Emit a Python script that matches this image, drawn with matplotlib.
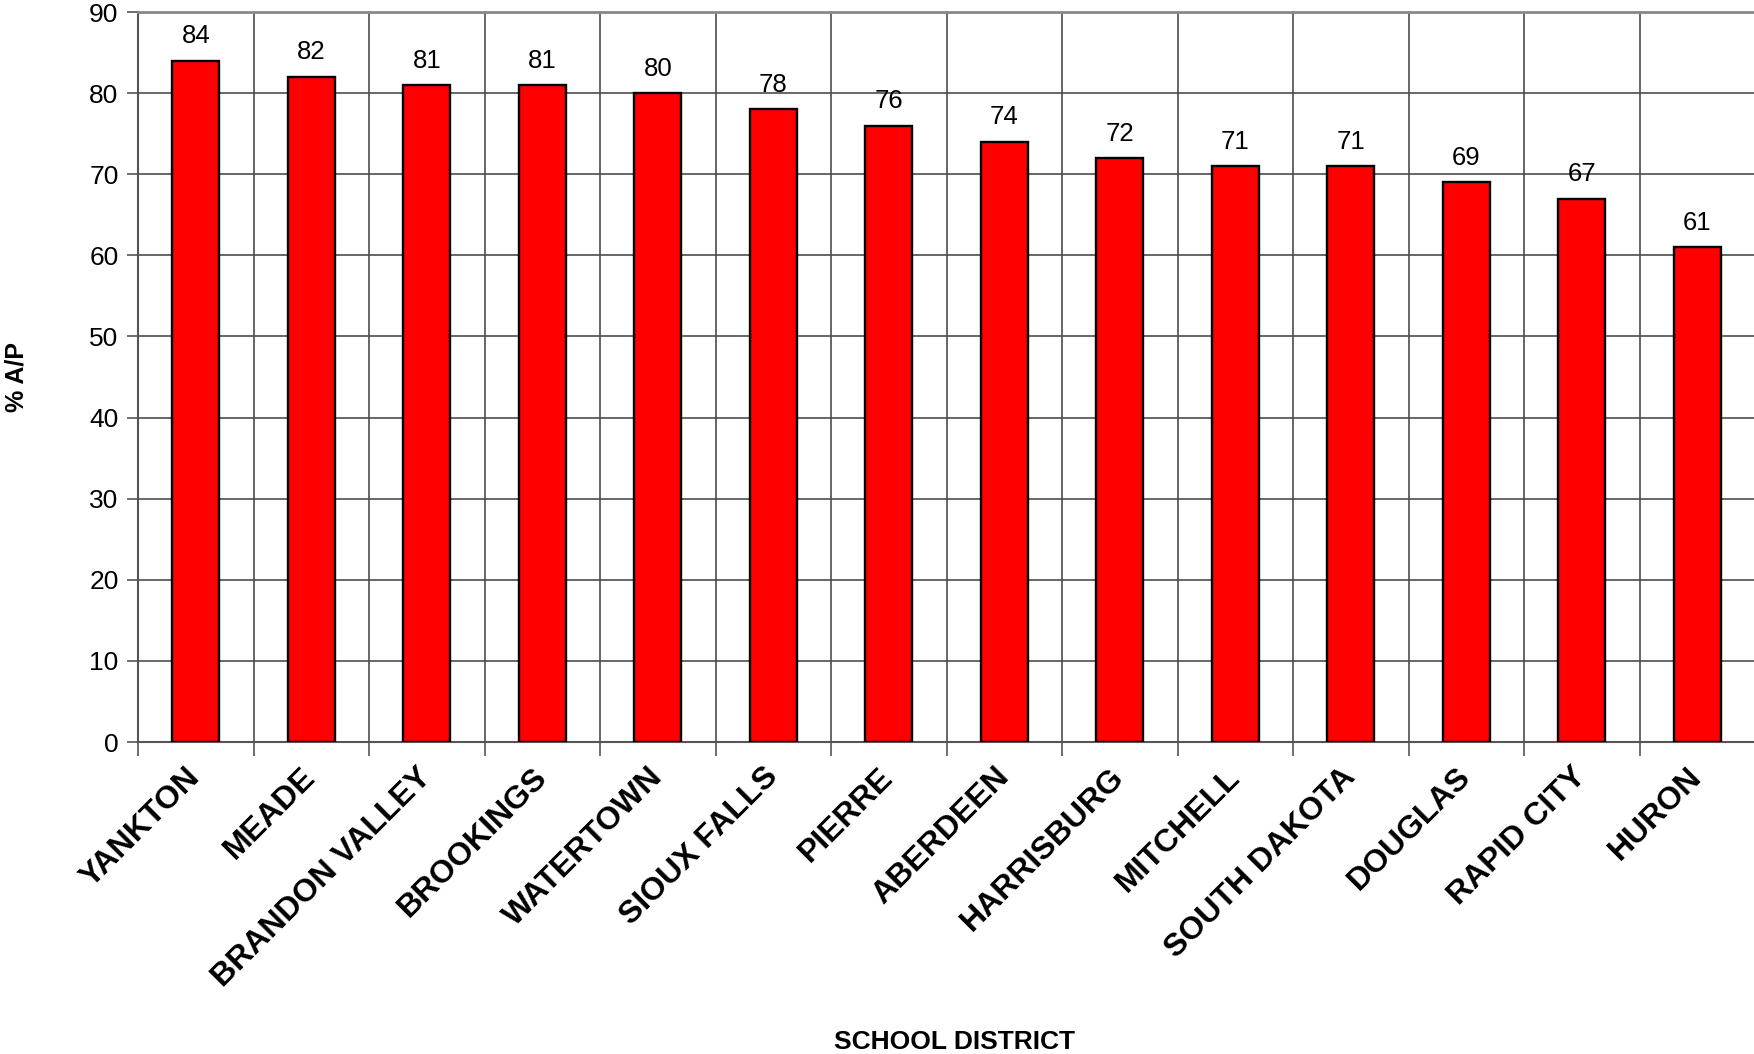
#! /usr/bin/python3

# % A/P by school district, bar chart
import matplotlib
matplotlib.use('Agg')
import matplotlib.pyplot as plt

districts = ['YANKTON', 'MEADE', 'BRANDON VALLEY', 'BROOKINGS', 'WATERTOWN',
        'SIOUX FALLS', 'PIERRE', 'ABERDEEN', 'HARRISBURG', 'MITCHELL',
        'SOUTH DAKOTA', 'DOUGLAS', 'RAPID CITY', 'HURON']
pct_ap = [84, 82, 81, 81, 80, 78, 76, 74, 72, 71, 71, 69, 67, 61]

plt.rcParams['font.family'] = ['Liberation Sans', 'DejaVu Sans']

fig = plt.figure(figsize=(17.54, 10.54), dpi=100)
ax = fig.add_axes([0.0787, 0.296, 0.9219, 0.6926])

x = list(range(len(districts)))
bars = ax.bar(x, pct_ap, width=0.41, color='#ff0000', edgecolor='black',
        linewidth=1.7, zorder=3)

for xi, v in zip(x, pct_ap):
    ax.annotate(str(v), (xi, v), xytext=(0, 9), textcoords='offset points',
            ha='center', va='bottom', fontsize=18.5, zorder=4)

ax.set_xlim(-0.5, len(districts) - 0.5)
ax.set_ylim(0, 90)
ax.set_yticks(range(0, 91, 10))
ax.tick_params(axis='y', labelsize=19, length=8, width=1.2, color='#555555',
        pad=6)

# gridlines and ticks sit on the category boundaries
ax.set_xticks([i - 0.5 for i in range(len(districts) + 1)])
ax.set_xticklabels([])
ax.tick_params(axis='x', length=10, width=1.2, color='#555555')
ax.set_xticks(x, minor=True)
ax.set_xticklabels(districts, minor=True, rotation=45, ha='right',
        va='center', rotation_mode='anchor', fontsize=23, fontweight='bold')
ax.tick_params(axis='x', which='minor', length=0, pad=22)

ax.grid(True, color='#4d4d4d', linewidth=1.2, zorder=0)
ax.set_axisbelow(True)

for side in ['right']:
    ax.spines[side].set_visible(False)
ax.spines['top'].set_color('#888888')
ax.spines['top'].set_linewidth(2)
ax.spines['left'].set_color('#555555')
ax.spines['left'].set_linewidth(1.5)
ax.spines['bottom'].set_color('#555555')
ax.spines['bottom'].set_linewidth(1.5)

ax.set_ylabel('% A/P', fontsize=18, fontweight='bold')
ax.yaxis.set_label_coords(-0.068, 0.5)
ax.set_xlabel('SCHOOL DISTRICT', fontsize=19, fontweight='bold')
ax.xaxis.set_label_coords(0.505, -0.395)

plt.savefig('out.png', dpi=100)
